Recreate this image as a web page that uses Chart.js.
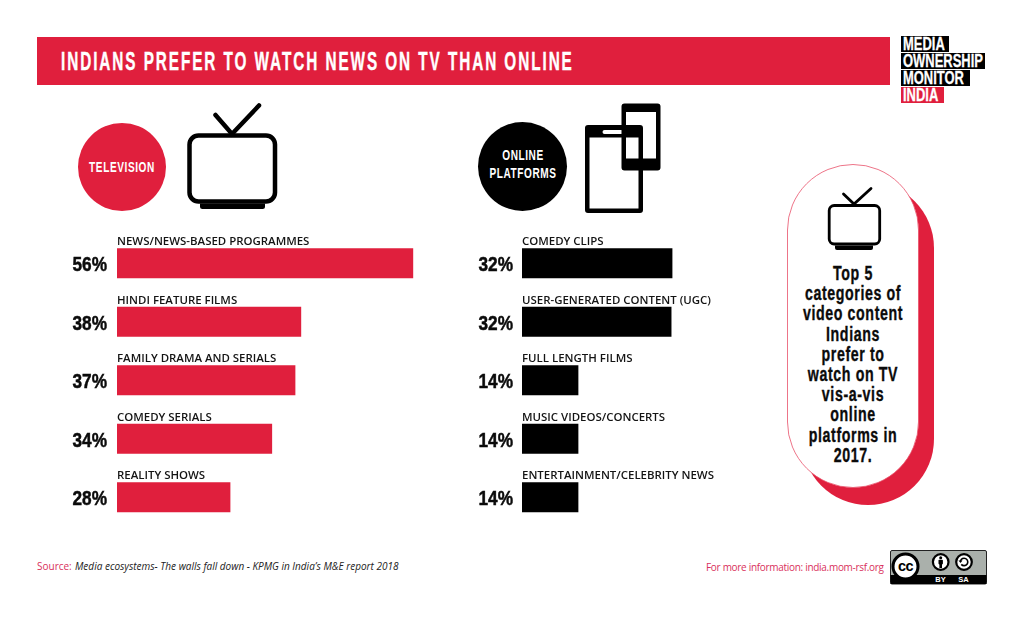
<!DOCTYPE html>
<html>
<head>
<meta charset="utf-8">
<script src="https://cdn.jsdelivr.net/npm/chart.js@4"></script>
<style>
  html,body{margin:0;padding:0;background:#fff;width:1024px;height:621px;overflow:hidden;}
  #stage{position:relative;width:1024px;height:621px;overflow:hidden;}
  #stage>*{position:absolute;}
  .narrow{font-family:"Liberation Sans",sans-serif;font-weight:700;white-space:pre;}
  .logo{left:900.5px;height:15.5px;background:#000;}
  .logo span{position:absolute;left:2.5px;top:0;line-height:16px;color:#fff;font-family:"Liberation Sans",sans-serif;font-weight:700;font-size:17.5px;white-space:pre;transform-origin:0 50%;transform:scaleX(.74);-webkit-text-stroke:.3px #fff;}
  .pilltext{left:753px;width:200px;text-align:center;color:#0b0b0b;font-size:20px;letter-spacing:.85px;line-height:20.2px;top:263px;transform:scaleX(.71);transform-origin:50% 50%;-webkit-text-stroke:.35px #0b0b0b;}
  .circ{text-align:center;color:#fff;font-size:15.5px;line-height:18px;letter-spacing:.9px;transform:scaleX(.65);transform-origin:50% 50%;}
</style>
</head>
<body>
<div id="stage">
  <div style="left:36.5px;top:36.5px;width:853.5px;height:48.8px;background:#E01F3D"></div>
  <div class="narrow" style="left:61px;top:46px;color:#fff;font-size:25.5px;line-height:30px;letter-spacing:3.2px;transform:scaleX(.601);transform-origin:0 50%;-webkit-text-stroke:.4px #fff">INDIANS PREFER TO WATCH NEWS ON TV THAN ONLINE</div>

  <div class="logo" style="top:36.3px;width:48.4px"><span>MEDIA</span></div>
  <div class="logo" style="top:53px;width:84.5px"><span>OWNERSHIP</span></div>
  <div class="logo" style="top:70px;width:69.5px"><span>MONITOR</span></div>
  <div class="logo" style="top:87px;width:43.5px;background:#E01F3D"><span>INDIA</span></div>

  <svg style="left:0;top:0" width="1024" height="621" viewBox="0 0 1024 621">
    <circle cx="122" cy="167" r="44" fill="#E01F3D"/>
    <circle cx="522.5" cy="166.5" r="44.5" fill="#000"/>
    <!-- large TV -->
    <rect x="189.5" y="135.5" width="85.5" height="66" rx="9" fill="#fff" stroke="#000" stroke-width="4.5"/>
    <path d="M200 203.5h65v3a2.5 2.5 0 0 1-2.5 2.5h-60a2.5 2.5 0 0 1-2.5-2.5z" fill="#000"/>
    <path d="M215.5 115L232 134L259 105.5" fill="none" stroke="#000" stroke-width="4.5" stroke-linecap="round"/>
    <!-- tablet + phone -->
    <path fill-rule="evenodd" fill="#000" d="M588 125h52a3 3 0 0 1 3 3v82a3 3 0 0 1-3 3h-52a3 3 0 0 1-3-3v-82a3 3 0 0 1 3-3zM589.5 137.5v71h49v-71zM604.5 130a2 2 0 0 0 0 4h17a2 2 0 0 0 0-4z"/>
    <path fill-rule="evenodd" fill="#000" d="M624.5 103.5h33a3 3 0 0 1 3 3v61a3 3 0 0 1-3 3h-33a3 3 0 0 1-3-3v-61a3 3 0 0 1 3-3zM626 112v46.500h30v-46.500z"/>
    <!-- side pill -->
    <rect x="802" y="182" width="132" height="323" rx="66" fill="#E01F3D"/>
    <rect x="787.5" y="164.5" width="131" height="323" rx="65.5" fill="#fff" stroke="#E8506A" stroke-width=".8"/>
    <rect x="829.200" y="205.5" width="50.500" height="38.500" rx="5" fill="#fff" stroke="#000" stroke-width="2.800"/>
    <path d="M835 245.500h38v2.500a2 2 0 0 1-2 2h-34a2 2 0 0 1-2-2z" fill="#000"/>
    <path d="M843.500 194L854 204L871 188.500" fill="none" stroke="#000" stroke-width="2.800" stroke-linecap="round"/>
    <!-- CC badge -->
    <rect x="890.500" y="550.500" width="96" height="33.500" rx="1.500" fill="#AAB0AB" stroke="#222" stroke-width="1"/>
    <rect x="890.500" y="575" width="96" height="9" fill="#000"/>
    <circle cx="905.500" cy="566.500" r="12.500" fill="#fff" stroke="#000" stroke-width="3"/>
    <circle cx="940.700" cy="562" r="7.800" fill="#fff" stroke="#000" stroke-width="2.200"/>
    <circle cx="940.700" cy="557.800" r="1.500" fill="#000"/>
    <rect x="938.500" y="559.800" width="4.400" height="4.600" rx=".8" fill="#000"/>
    <rect x="939.400" y="564" width="2.600" height="4" fill="#000"/>
    <circle cx="964" cy="562" r="7.800" fill="#fff" stroke="#000" stroke-width="2.200"/>
    <path d="M960.500 561a3.700 3.700 0 1 1 .8 3.400" fill="none" stroke="#000" stroke-width="1.600"/>
    <path d="M958.500 560.500h4l-2 2.600z" fill="#000"/>
  </svg>

  <div class="narrow circ" style="left:42px;width:160px;top:158px">TELEVISION</div>
  <div class="narrow circ" style="left:443px;width:160px;top:146px">ONLINE
PLATFORMS</div>

  <canvas id="tvChart" width="394" height="297" style="left:40px;top:230px;width:394px;height:297px"></canvas>
  <canvas id="onlineChart" width="290" height="297" style="left:440px;top:230px;width:290px;height:297px"></canvas>

  <div class="narrow pilltext">Top 5
categories of
video content
Indians
prefer to
watch on TV
vis-a-vis
online
platforms in
2017.</div>

  <div style="left:37px;top:559px;font:10px/14px 'Open Sans',sans-serif;color:#D9305C;white-space:pre">Source:</div>
  <div style="left:75px;top:559px;font:italic 10px/14px 'Open Sans',sans-serif;color:#222;white-space:pre">Media ecosystems- The walls fall down - KPMG in India’s M&amp;E report 2018</div>
  <div style="left:706px;top:560px;font:10px/14px 'Open Sans',sans-serif;letter-spacing:-.3px;color:#D9305C;white-space:pre">For more information: india.mom-rsf.org</div>

  <div style="left:893px;top:558px;width:25px;text-align:center;font:700 14.5px/17px 'Liberation Sans',sans-serif;color:#000;letter-spacing:-.5px">cc</div>
  <div style="left:930px;top:575px;width:21px;text-align:center;font:700 7.5px/9px 'Liberation Sans',sans-serif;color:#fff">BY</div>
  <div style="left:953px;top:575px;width:21px;text-align:center;font:700 7.5px/9px 'Liberation Sans',sans-serif;color:#fff">SA</div>
</div>

<script>
/* Category names and the percentages printed beside each bar. */
const tvCategories = ["NEWS/NEWS-BASED PROGRAMMES","HINDI FEATURE FILMS","FAMILY DRAMA AND SERIALS","COMEDY SERIALS","REALITY SHOWS"];
const tvPrinted = [56,38,37,34,28];
const onlineCategories = ["COMEDY CLIPS","USER-GENERATED CONTENT (UGC)","FULL LENGTH FILMS","MUSIC VIDEOS/CONCERTS","ENTERTAINMENT/CELEBRITY NEWS"];
const onlinePrinted = [32,32,14,14,14];

/* Bar lengths. The source graphic does not draw
   its bars in proportion to the printed percentages, so the drawn lengths are
   kept apart from the printed figures above. */
const tvDrawnLengths = [56,34.8,33.7,29.3,21.4];
const onlineDrawnLengths = [32,31.8,11.95,11.95,11.95];

const RED = "#E01F3D", BLACK = "#000000";

function barAnnotations(printed, gap) {
  return {
    id: "barAnnotations",
    afterDatasetsDraw(chart) {
      const {ctx, chartArea, scales} = chart;
      ctx.save();
      ctx.textBaseline = "alphabetic";
      chart.data.labels.forEach((label, i) => {
        const y = scales.y.getPixelForValue(i);
        ctx.font = "600 11.45px 'Open Sans', sans-serif";
        ctx.fillStyle = "#141414";
        ctx.textAlign = "left";
        ctx.fillText(label, chartArea.left, y - 18);
        ctx.save();
        ctx.translate(chartArea.left - gap, y + 8);
        ctx.scale(0.82, 1);
        ctx.font = "700 21px 'Liberation Sans', sans-serif";
        ctx.fillStyle = "#0b0b0b";
        ctx.strokeStyle = "#0b0b0b";
        ctx.lineWidth = 0.5;
        ctx.textAlign = "right";
        ctx.fillText(printed[i] + "%", 0, 0);
        ctx.strokeText(printed[i] + "%", 0, 0);
        ctx.restore();
      });
      ctx.restore();
    }
  };
}

function build(id, labels, lengths, printed, color, axisMax, axisWidth, rightPad, gap) {
  return new Chart(document.getElementById(id), {
    type: "bar",
    data: { labels, datasets: [{ data: lengths, backgroundColor: color, borderWidth: 0, barThickness: 29.5 }] },
    options: {
      indexAxis: "y",
      responsive: false,
      animation: false,
      events: [],
      layout: { padding: { top: 4, bottom: 0.5, left: 0, right: rightPad } },
      plugins: { legend: { display: false }, tooltip: { enabled: false }, title: { display: false } },
      scales: {
        x: { display: false, min: 0, max: axisMax },
        y: {
          grid: { display: false, drawTicks: false },
          border: { display: false },
          afterFit(scale) { scale.width = axisWidth; },
          ticks: { display: false }
        }
      }
    },
    plugins: [barAnnotations(printed, gap)]
  });
}

build("tvChart", tvCategories, tvDrawnLengths, tvPrinted, RED, 60, 77, 0, 10);
build("onlineChart", onlineCategories, onlineDrawnLengths, onlinePrinted, BLACK, 40, 82, 20.4, 9);
</script>
</body>
</html>
